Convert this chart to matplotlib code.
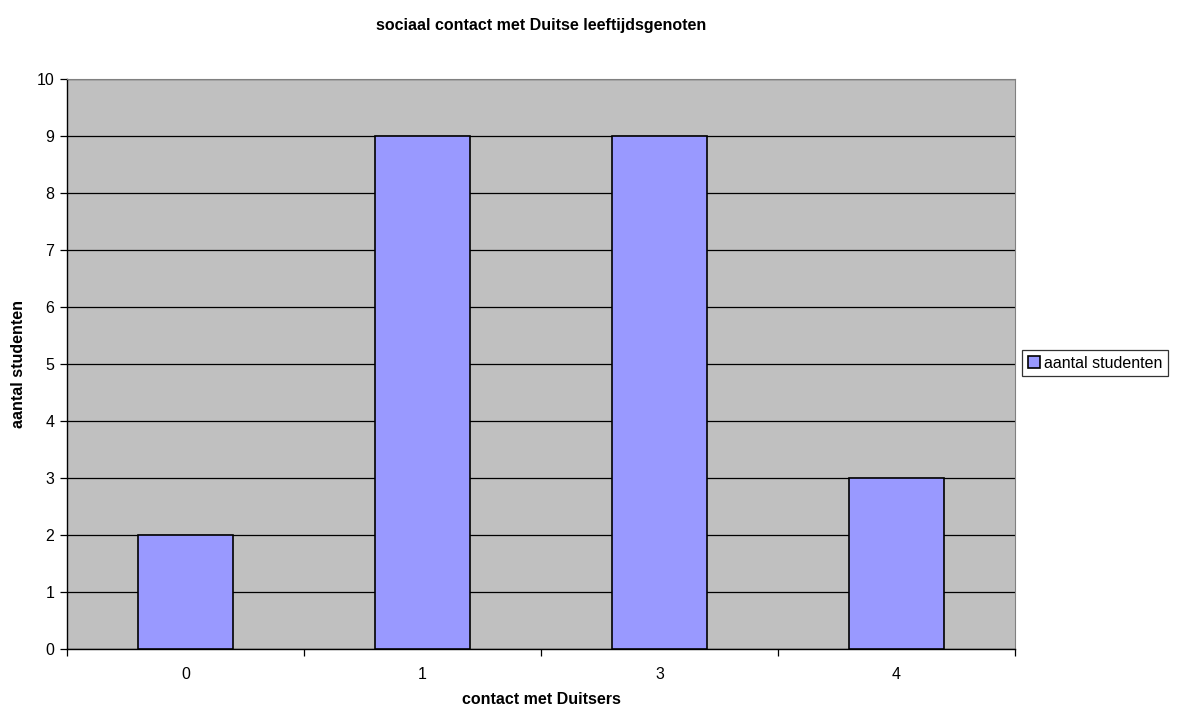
import matplotlib.pyplot as plt
import numpy as np

plt.rcParams['font.family'] = ['Liberation Sans', 'DejaVu Sans']

categories = ['0', '1', '3', '4']
students = [2, 9, 9, 3]

fig = plt.figure(figsize=(11.83, 7.06), dpi=100)
ax = fig.add_axes([0.0566, 0.0807, 0.8014, 0.8075])
ax.set_facecolor('#c0c0c0')

x = np.arange(len(categories))
ax.bar(x, students, width=0.4, color='#9999ff', edgecolor='black',
       linewidth=1.2, zorder=3, label='aantal studenten')

ax.set_xlim(-0.5, len(categories) - 0.5)
ax.set_ylim(0, 10)
ax.set_yticks(range(0, 11))
ax.yaxis.grid(True, color='black', linewidth=0.9, zorder=1)

# tick marks between categories, labels centred under the bars
ax.set_xticks(np.arange(-0.5, len(categories)), minor=False)
ax.set_xticklabels([])
ax.set_xticks(x, minor=True)
ax.set_xticklabels(categories, minor=True)
ax.tick_params(axis='x', which='minor', length=0, pad=13, labelsize=11.5)
ax.tick_params(axis='x', which='major', length=5, width=0.9, direction='out')
ax.tick_params(axis='y', length=5, width=0.9, direction='out', labelsize=11.5, pad=4)

for side in ['top', 'right']:
    ax.spines[side].set_color('#808080')
for side in ['left', 'bottom']:
    ax.spines[side].set_color('black')
    ax.spines[side].set_linewidth(1.0)

ax.set_title('sociaal contact met Duitse leeftijdsgenoten', fontsize=11.5,
             fontweight='bold', pad=35)
ax.set_xlabel('contact met Duitsers', fontsize=11.5, fontweight='bold', labelpad=7)
ax.set_ylabel('aantal studenten', fontsize=11.5, fontweight='bold', labelpad=8)

leg = fig.legend(loc='center left', bbox_to_anchor=(0.864, 0.4855),
                 fontsize=11.5, frameon=True, fancybox=False,
                 edgecolor='black', handlelength=0.8, handleheight=0.8,
                 handletextpad=0.2, borderpad=0.35, borderaxespad=0)
leg.get_frame().set_linewidth(0.9)

fig.savefig('out.png', dpi=100, facecolor='white')
